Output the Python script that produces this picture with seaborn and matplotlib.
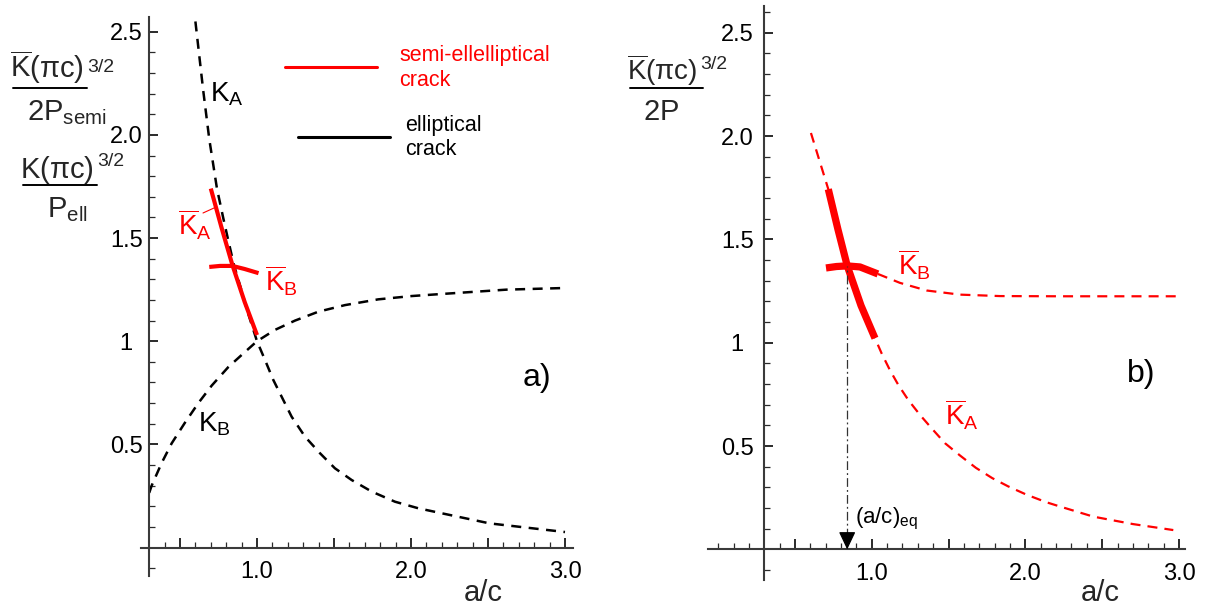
import numpy as np
import pandas as pd
import matplotlib
matplotlib.use("Agg")
import matplotlib.pyplot as plt
from matplotlib.lines import Line2D
from matplotlib.ticker import FixedLocator, FixedFormatter
import seaborn as sns

# ---------------- data ----------------
# panel a) elliptical crack (black dashed)
ell_KA_x = [0.60, 0.65, 0.69, 0.74, 0.78, 0.81, 0.85, 0.89, 0.94, 1.00, 1.052, 1.106, 1.16, 1.225,
            1.312, 1.409, 1.506, 1.615, 1.745, 1.896, 2.048, 2.199, 2.51, 3.00]
ell_KA_y = [2.55, 2.22, 1.98, 1.74, 1.60, 1.50, 1.37, 1.27, 1.14, 1.00, 0.909, 0.812, 0.731, 0.634,
            0.537, 0.457, 0.384, 0.327, 0.271, 0.222, 0.190, 0.166, 0.117, 0.075]
ell_KB_x = [0.30, 0.316, 0.381, 0.446, 0.532, 0.619, 0.706, 0.814, 0.922, 1.00, 1.117, 1.247,
            1.398, 1.571, 1.788, 2.005, 2.20, 2.62, 3.00]
ell_KB_y = [0.265, 0.30, 0.41, 0.505, 0.605, 0.70, 0.785, 0.875, 0.948, 1.00, 1.055, 1.10,
            1.143, 1.175, 1.203, 1.219, 1.229, 1.25, 1.258]
# panel a) semi-elliptical crack (red solid)
semi_KA_x = [0.70, 0.77, 0.84, 0.92, 1.00]
semi_KA_y = [1.74, 1.55, 1.37, 1.19, 1.03]
semi_KB_x = [0.69, 0.76, 0.84, 0.92, 1.01]
semi_KB_y = [1.36, 1.365, 1.365, 1.35, 1.33]
# panel b) semi-elliptical crack, full curves (red dashed)
b_KA_x = [0.604, 0.66, 0.717, 0.78, 0.84, 0.93, 1.021, 1.064, 1.118, 1.173, 1.238, 1.314, 1.39,
          1.477, 1.574, 1.678, 1.785, 1.889, 2.008, 2.139, 2.225, 2.442, 2.70, 2.963]
b_KA_y = [2.015, 1.88, 1.743, 1.548, 1.373, 1.18, 1.022, 0.949, 0.868, 0.796, 0.723, 0.651, 0.586,
          0.514, 0.455, 0.395, 0.345, 0.305, 0.265, 0.228, 0.208, 0.159, 0.123, 0.094]
b_KB_x = [1.04, 1.183, 1.357, 1.574, 1.835, 2.225, 3.00]
b_KB_y = [1.333, 1.29, 1.253, 1.233, 1.226, 1.225, 1.225]
# panel b) physically valid range (red thick)
b_KA_thick_x = [0.717, 0.78, 0.84, 0.93, 1.021]
b_KA_thick_y = [1.743, 1.548, 1.373, 1.18, 1.022]
b_KB_thick_x = [0.702, 0.77, 0.839, 0.923, 1.04]
b_KB_thick_y = [1.362, 1.369, 1.372, 1.367, 1.333]
ac_eq = 0.84
K_eq = 1.372

x_major = [0.5, 1.0, 1.5, 2.0, 2.5, 3.0]
x_major_labels = ["", "1.0", "", "2.0", "", "3.0"]
y_major = [0.0, 0.5, 1.0, 1.5, 2.0, 2.5]
y_major_labels = ["", "0.5", "1", "1.5", "2.0", "2.5"]

# ---------------- style ----------------
sns.set_theme(style="white")
plt.rcParams["font.family"] = ["Liberation Sans", "DejaVu Sans"]
plt.rcParams["mathtext.fontset"] = "custom"
plt.rcParams["mathtext.rm"] = "Liberation Sans"
plt.rcParams["mathtext.it"] = "Liberation Sans"
plt.rcParams["mathtext.bf"] = "Liberation Sans:bold"
plt.rcParams["axes.facecolor"] = "white"

W, H = 1207, 607
fig = plt.figure(figsize=(W / 100, H / 100), dpi=100)
fig.patch.set_facecolor("white")

def P(x, y):
    return (x / W, 1 - y / H)

XL = (-0.35, 3.2)
YL = (-0.27, 2.64)
ax_a = fig.add_axes([0.04068, 0.00626, 0.45294, 0.98896])
ax_b = fig.add_axes([0.55046, 0.0028, 0.45178, 0.99094])

AXC = "#3a3a3a"
for ax, lb, bb, xminor, yminor in [
    (ax_a, (-0.14, 2.57), (0.245, 3.05),
     [0.4, 0.6, 0.7, 0.8, 0.9, 1.1, 1.2, 1.3, 1.4, 1.6, 1.7, 1.8, 1.9, 2.1, 2.2, 2.3, 2.4, 2.6, 2.7, 2.8, 2.9],
     [-0.1, 0.1, 0.2, 0.3, 0.4, 0.6, 0.7, 0.8, 0.9, 1.1, 1.2, 1.3, 1.4, 1.6, 1.7, 1.8, 1.9, 2.1, 2.2, 2.3, 2.4]),
    (ax_b, (-0.15, 2.63), (-0.065, 3.04),
     [0.0, 0.1, 0.2, 0.4, 0.6, 0.7, 0.8, 0.9, 1.1, 1.2, 1.3, 1.4, 1.6, 1.7, 1.8, 1.9, 2.1, 2.2, 2.3, 2.4, 2.6, 2.7, 2.8, 2.9],
     [-0.1, 0.1, 0.2, 0.3, 0.4, 0.6, 0.7, 0.8, 0.9, 1.1, 1.2, 1.3, 1.4, 1.6, 1.7, 1.8, 1.9, 2.1, 2.2, 2.3, 2.4, 2.6]),
]:
    ax.set_xlim(*XL)
    ax.set_ylim(*YL)
    ax.patch.set_alpha(0)
    for s in ["top", "right"]:
        ax.spines[s].set_visible(False)
    ax.spines["left"].set_position(("data", 0.3))
    ax.spines["bottom"].set_position(("data", 0.0))
    ax.spines["left"].set_bounds(*lb)
    ax.spines["bottom"].set_bounds(*bb)
    for s in ["left", "bottom"]:
        ax.spines[s].set_color(AXC)
        ax.spines[s].set_linewidth(1.5)
        ax.spines[s].set_visible(True)
    ax.xaxis.set_major_locator(FixedLocator(x_major))
    ax.xaxis.set_major_formatter(FixedFormatter(x_major_labels))
    ax.xaxis.set_minor_locator(FixedLocator(xminor))
    ax.yaxis.set_major_locator(FixedLocator(y_major))
    ax.yaxis.set_major_formatter(FixedFormatter(y_major_labels))
    ax.yaxis.set_minor_locator(FixedLocator(yminor))
    ax.tick_params(which="both", direction="in", color="#2a2a2a", labelcolor="black",
                   bottom=True, left=True, top=False, right=False)
    ax.tick_params(axis="x", which="major", length=7, width=1.4, labelsize=17, pad=10)
    ax.tick_params(axis="x", which="minor", length=4.5, width=0.9)
    ax.tick_params(axis="y", which="major", length=6.5, width=1.4, labelsize=17)
    ax.tick_params(axis="y", which="minor", length=4.5, width=0.9)
    ax.grid(False)

ax_a.tick_params(axis="y", which="major", pad=16.5)
ax_b.tick_params(axis="y", which="major", pad=19.5)
for ax in (ax_a, ax_b):
    for lab in ax.get_yticklabels():
        lab.set_ha("center")

RED = "#ff0000"
dash_k = (0, (4, 3))

# ---------------- panel a ----------------
sns.lineplot(x=ell_KA_x, y=ell_KA_y, ax=ax_a, color="black", linewidth=1.8,
             linestyle=dash_k, sort=False, estimator=None)
sns.lineplot(x=ell_KB_x, y=ell_KB_y, ax=ax_a, color="black", linewidth=1.8,
             linestyle=dash_k, sort=False, estimator=None)
sns.lineplot(x=semi_KA_x, y=semi_KA_y, ax=ax_a, color=RED, linewidth=3.0,
             solid_capstyle="butt", sort=False, estimator=None)
sns.lineplot(x=semi_KB_x, y=semi_KB_y, ax=ax_a, color=RED, linewidth=3.0,
             solid_capstyle="butt", sort=False, estimator=None)

# ---------------- panel b ----------------
sns.lineplot(x=b_KA_x, y=b_KA_y, ax=ax_b, color=RED, linewidth=1.6,
             linestyle=(0, (4.5, 3.2)), sort=False, estimator=None)
sns.lineplot(x=b_KB_x, y=b_KB_y, ax=ax_b, color=RED, linewidth=1.6,
             linestyle=(0, (4.5, 3.2)), sort=False, estimator=None)
sns.lineplot(x=b_KA_thick_x, y=b_KA_thick_y, ax=ax_b, color=RED, linewidth=5.2,
             solid_capstyle="butt", sort=False, estimator=None)
sns.lineplot(x=b_KB_thick_x, y=b_KB_thick_y, ax=ax_b, color=RED, linewidth=5.2,
             solid_capstyle="butt", sort=False, estimator=None)
ax_b.vlines(ac_eq, 0.06, K_eq, colors="#333333", linewidth=0.9,
            linestyles=[(0, (7, 2.5, 1.5, 2.5))])
ax_b.annotate("", xy=(ac_eq, 0.0), xytext=(ac_eq, 0.08),
              arrowprops=dict(arrowstyle="-|>,head_length=0.55,head_width=0.26",
                              mutation_scale=20, color="black", lw=0.9,
                              shrinkA=0, shrinkB=0))

for ax in (ax_a, ax_b):
    ax.set_xlabel("")
    ax.set_ylabel("")

# ---------------- texts ----------------
txt = dict(ha="left", va="baseline")
# y-axis labels (fractions)
fig.text(*P(10, 78), r"$\overline{\mathrm{K}}(\pi c)$", fontsize=21, **txt)
fig.text(*P(87, 72), "3/2", fontsize=14, **txt)
fig.text(*P(27, 120), r"$2\mathrm{P}_{semi}$", fontsize=21, **txt)
fig.text(*P(20, 178), r"$\mathrm{K}(\pi c)$", fontsize=21, **txt)
fig.text(*P(97, 166), "3/2", fontsize=14, **txt)
fig.text(*P(47, 217), r"$\mathrm{P}_{ell}$", fontsize=21, **txt)
fig.text(*P(627, 80), r"$\overline{\mathrm{K}}(\pi c)$", fontsize=20, **txt)
fig.text(*P(700, 69), "3/2", fontsize=14, **txt)
fig.text(*P(643, 120), r"$2\mathrm{P}$", fontsize=21, **txt)
for (x1, x2, y) in [(13, 87, 88), (23, 97, 185), (630, 703, 88)]:
    fig.add_artist(Line2D([x1 / W, x2 / W], [1 - y / H, 1 - y / H],
                          transform=fig.transFigure, color="black", lw=1.4))

# curve labels panel a
fig.text(*P(210, 102), r"$\mathrm{K_A}$", fontsize=20, color="black", **txt)
fig.text(*P(178, 236), r"$\overline{\mathrm{K}}_\mathrm{A}$", fontsize=20, color=RED, **txt)
fig.add_artist(Line2D([203 / W, 214 / W], [1 - 213 / H, 1 - 208 / H],
                      transform=fig.transFigure, color=RED, lw=0.8))
fig.text(*P(265, 291), r"$\overline{\mathrm{K}}_\mathrm{B}$", fontsize=20, color=RED, **txt)
fig.text(*P(198, 431), r"$\mathrm{K_B}$", fontsize=20, color="black", **txt)
fig.text(*P(523, 386), "a)", fontsize=23, color="black", **txt)

# legend of panel a
fig.add_artist(Line2D([285 / W, 377 / W], [1 - 67 / H, 1 - 67 / H],
                      transform=fig.transFigure, color=RED, lw=2.2))
fig.add_artist(Line2D([298 / W, 390 / W], [1 - 137 / H, 1 - 137 / H],
                      transform=fig.transFigure, color="black", lw=2.2))
fig.text(*P(399, 68.5), "semi-ellelliptical\ncrack", fontsize=15.5, color=RED,
         ha="left", va="center", linespacing=1.25)
fig.text(*P(405, 137.5), "elliptical\ncrack", fontsize=15.5, color="black",
         ha="left", va="center", linespacing=1.15)

# curve labels panel b
fig.text(*P(898, 275), r"$\overline{\mathrm{K}}_\mathrm{B}$", fontsize=20, color=RED, **txt)
fig.text(*P(945, 426), r"$\overline{\mathrm{K}}_\mathrm{A}$", fontsize=20, color=RED, **txt)
fig.text(*P(1127, 382), "b)", fontsize=23, color="black", **txt)
fig.text(*P(855, 523), r"$\mathrm{(a/c)_{eq}}$", fontsize=16, color="black", **txt)

# x-axis titles
fig.text(*P(483, 601), "a/c", fontsize=21, ha="center", va="baseline")
fig.text(*P(1100, 601), "a/c", fontsize=21, ha="center", va="baseline")

fig.savefig("out.png", dpi=100, facecolor="white")
